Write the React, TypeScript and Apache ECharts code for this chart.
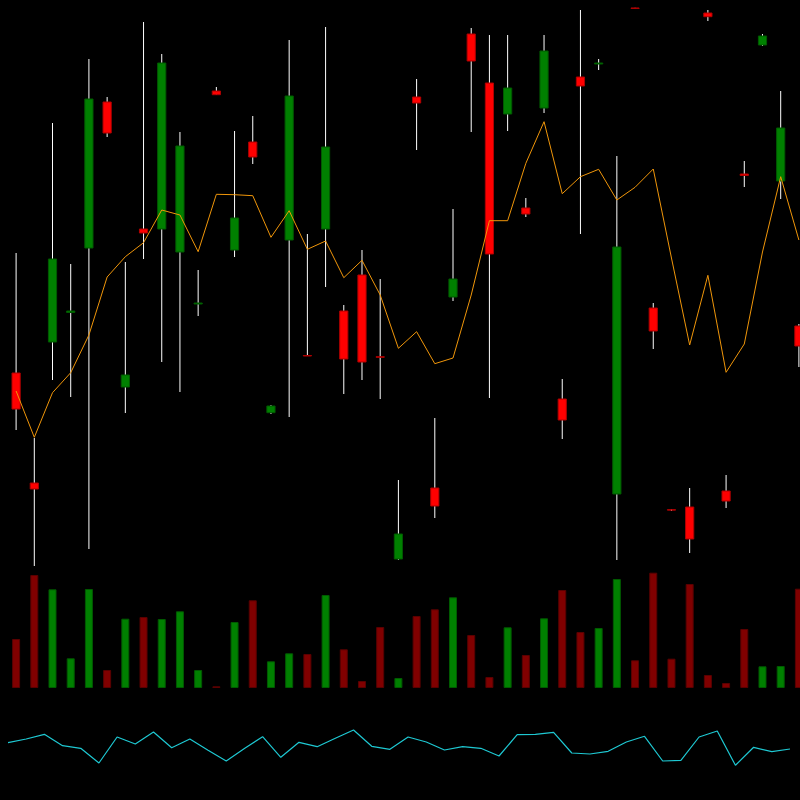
import React, { useEffect, useRef } from "react";
import * as echarts from "echarts";

// Candles: open, close, low, high (price units)
const opens = [22.7, 11.7, 25.8, 28.75, 35.2, 49.8, 21.3, 37.1, 37.1, 34.8, 29.6, 50.9, 35.0, 45.8, 18.73, 36.0, 24.45, 37.1, 28.9, 32.5, 24.33, 4.1, 50.3, 11.2, 30.3, 56.6, 51.7, 48.6, 39.2, 49.2, 20.1, 52.3, 53.6, 10.6, 59.2, 29.2, 9.03, 9.3, 58.7, 10.9, 42.6, 55.5, 41.9, 27.4];
const closes = [19.1, 11.1, 34.1, 28.9, 50.1, 46.7, 22.5, 36.7, 53.7, 45.4, 29.7, 50.53, 38.2, 44.3, 19.4, 50.4, 24.4, 45.3, 24.1, 23.8, 24.27, 6.6, 49.7, 9.4, 32.1, 53.9, 34.6, 51.2, 38.6, 54.9, 18.0, 51.4, 53.7, 35.3, 59.16, 26.9, 8.99, 6.1, 58.33, 9.9, 42.45, 56.4, 47.2, 25.4];
const lows = [17.0, 3.4, 22.0, 20.3, 5.1, 46.3, 18.7, 34.1, 23.8, 20.8, 28.4, 50.5, 34.3, 43.6, 18.6, 18.3, 24.4, 31.3, 20.6, 22.0, 20.1, 4.0, 45.0, 8.2, 29.9, 46.8, 20.2, 46.9, 38.3, 48.7, 16.1, 36.6, 53.0, 4.0, 59.14, 25.1, 8.9, 4.7, 57.9, 9.2, 41.3, 55.4, 40.1, 23.3];
const highs = [34.7, 16.2, 47.7, 33.6, 54.1, 50.3, 33.8, 57.8, 54.6, 46.8, 33.0, 51.3, 46.9, 48.4, 19.5, 56.0, 36.6, 57.3, 29.5, 35.0, 32.1, 12.0, 52.1, 18.2, 39.1, 57.2, 56.5, 56.5, 40.2, 56.5, 22.1, 59.0, 54.1, 44.4, 59.22, 29.7, 9.1, 11.2, 59.0, 12.5, 43.9, 56.6, 50.9, 27.6];

// Overlay line on price pane
const avgLine = [20.9, 16.27, 20.73, 22.73, 26.5, 32.3, 34.33, 35.73, 39.0, 38.5, 34.83, 40.57, 40.53, 40.43, 36.27, 38.93, 35.07, 35.9, 32.23, 33.97, 30.5, 25.17, 26.83, 23.63, 24.2, 30.5, 37.93, 37.93, 43.67, 47.83, 40.63, 42.33, 43.07, 40.0, 41.27, 43.1, 34.2, 25.5, 32.47, 22.77, 25.6, 34.8, 42.33, 36.0];

// Volume
const volumes = [4900, 11300, 9870, 2970, 9900, 1800, 6930, 7100, 6900, 7670, 1800, 170, 6600, 8770, 2670, 3470, 3400, 9300, 3870, 700, 6100, 1000, 7200, 7870, 9070, 5300, 1100, 6070, 3300, 6970, 9800, 5600, 6000, 10900, 2770, 11530, 2930, 10400, 1300, 500, 5900, 2170, 2200, 9930];

// Oscillator
const oscillator = [57.3, 61.0, 65.7, 54.3, 51.7, 37.0, 63.0, 56.0, 68.0, 52.3, 61.0, 49.8, 39.0, 51.5, 63.3, 42.7, 57.7, 53.3, 61.7, 70.0, 53.7, 50.7, 63.0, 58.0, 50.0, 53.3, 51.7, 44.0, 65.3, 65.7, 67.7, 47.0, 46.0, 48.7, 58.0, 63.7, 39.0, 39.7, 63.0, 69.0, 34.7, 52.7, 48.3, 51.0];

const categories = opens.map((_, i) => String(i + 1));

export default function App() {
  const ref = useRef<HTMLDivElement>(null);

  useEffect(() => {
    if (!ref.current) return;
    const chart = echarts.init(ref.current, undefined, { renderer: "svg" });

    const candleData = opens.map((o, i) => [i, o, closes[i], lows[i], highs[i]]);
    const volData = volumes.map((v, i) => {
      const up = closes[i] >= opens[i];
      return {
        value: v,
        itemStyle: {
          color: up ? "#008000" : "#800000",
          borderColor: up ? "#005a00" : "#5a0000",
          borderWidth: 1,
        },
      };
    });

    const option: any = {
      animation: false,
      backgroundColor: "#000000",
      grid: [
        { left: 7, width: 801, top: 0, height: 570, outerBoundsMode: "none", containLabel: false },
        { left: 7, width: 801, top: 570, height: 118, outerBoundsMode: "none", containLabel: false },
        { left: 8, width: 782, top: 700, height: 100, outerBoundsMode: "none", containLabel: false },
      ],
      xAxis: [
        { type: "category", gridIndex: 0, data: categories, show: false, boundaryGap: true },
        { type: "category", gridIndex: 1, data: categories, show: false, boundaryGap: true },
        { type: "category", gridIndex: 2, data: categories, show: false, boundaryGap: false },
      ],
      yAxis: [
        { type: "value", gridIndex: 0, min: 3, max: 60, show: false },
        { type: "value", gridIndex: 1, min: 0, max: 11800, show: false },
        { type: "value", gridIndex: 2, min: 0, max: 100, show: false },
      ],
      series: [
        {
          type: "custom",
          name: "Price",
          xAxisIndex: 0,
          yAxisIndex: 0,
          data: candleData,
          encode: { x: 0, y: [1, 2, 3, 4] },
          clip: false,
          z: 2,
          renderItem: (params: any, api: any) => {
            const idx = api.value(0);
            const o = api.value(1);
            const c = api.value(2);
            const l = api.value(3);
            const h = api.value(4);
            const pO = api.coord([idx, o]);
            const pC = api.coord([idx, c]);
            const pL = api.coord([idx, l]);
            const pH = api.coord([idx, h]);
            const band = api.size([1, 0])[0];
            const bw = band * 0.45;
            const up = c >= o;
            const x = pO[0];
            const top = Math.min(pO[1], pC[1]);
            const ht = Math.abs(pO[1] - pC[1]);
            return {
              type: "group",
              children: [
                {
                  type: "line",
                  shape: { x1: x, y1: pH[1], x2: x, y2: pL[1] },
                  style: { stroke: "#ffffff", lineWidth: 1 },
                },
                {
                  type: "rect",
                  shape: { x: x - bw / 2, y: top, width: bw, height: ht },
                  style: {
                    fill: up ? "#008000" : "#ff0000",
                    stroke: up ? "#005a00" : "#b00000",
                    lineWidth: 1,
                  },
                },
              ],
            };
          },
        },
        {
          type: "line",
          name: "MA",
          xAxisIndex: 0,
          yAxisIndex: 0,
          data: avgLine,
          symbol: "none",
          z: 3,
          lineStyle: { color: "#f0960a", width: 1 },
        },
        {
          type: "bar",
          name: "Volume",
          xAxisIndex: 1,
          yAxisIndex: 1,
          data: volData,
          barWidth: 8,
        },
        {
          type: "line",
          name: "Oscillator",
          xAxisIndex: 2,
          yAxisIndex: 2,
          data: oscillator,
          symbol: "none",
          lineStyle: { color: "#1ec8d2", width: 1.2 },
        },
      ],
    };

    chart.setOption(option);
    return () => chart.dispose();
  }, []);

  return (
    <div
      ref={ref}
      style={{ position: "fixed", left: 0, top: 0, width: 800, height: 800, background: "#000" }}
    />
  );
}
